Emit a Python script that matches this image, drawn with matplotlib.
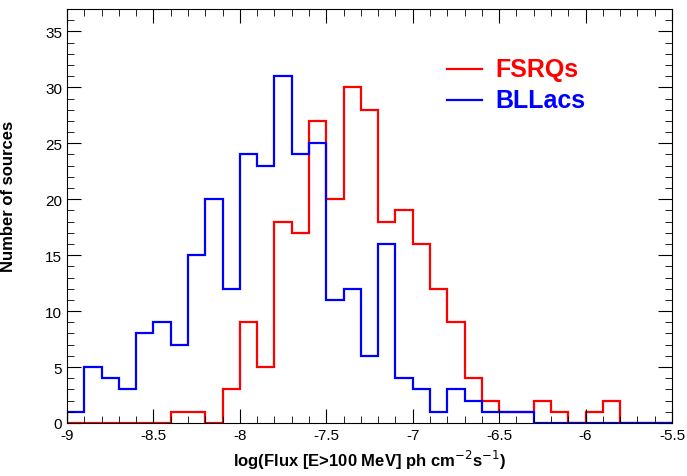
import numpy as np
import matplotlib
matplotlib.use("Agg")
import matplotlib.pyplot as plt
from matplotlib.ticker import MultipleLocator, FuncFormatter

edges = np.round(np.arange(-9.0, -5.5 + 1e-9, 0.1), 2)
fsrq = [0,0,0,0,0,0,1,1,0,3,9,5,18,17,27,20,30,28,18,19,16,12,9,4,2,1,1,2,1,0,1,2,0,0,0]
bll  = [1,5,4,3,8,9,7,15,20,12,24,23,31,24,25,11,12,6,16,4,3,1,3,2,1,1,1,0,0,0,0,0,0,0,0]

plt.rcParams['font.family'] = ['Liberation Sans', 'DejaVu Sans']
fig = plt.figure(figsize=(6.87, 4.77), dpi=100)
ax = fig.add_axes([67/687, 53/477, 605/687, 414/477])
ax.stairs(fsrq, edges, color='#ff0000', lw=1.6)
ax.stairs(bll, edges, color='#0000ff', lw=1.6)
ax.set_xlim(-9, -5.5)
ax.set_ylim(0, 37)
ax.xaxis.set_major_locator(MultipleLocator(0.5))
ax.xaxis.set_minor_locator(MultipleLocator(0.1))
ax.yaxis.set_major_locator(MultipleLocator(5))
ax.yaxis.set_minor_locator(MultipleLocator(1))
ax.xaxis.set_major_formatter(FuncFormatter(lambda v, p: f"{v:g}"))
ax.tick_params(which='both', direction='in', top=True, right=True, labelsize=11)
ax.tick_params(which='major', length=10)
ax.tick_params(which='minor', length=5)
ax.set_xlabel(r"log(Flux [E>100 MeV] ph cm$^{-2}$s$^{-1}$)", fontweight='bold', fontsize=12)
ax.set_ylabel("Number of sources", fontweight='bold', fontsize=12)
ax.yaxis.set_label_coords(-0.085, 0.55)
# legend
ax.plot([-6.8, -6.6], [31.6, 31.6], color='#ff0000', lw=1.6)
ax.plot([-6.8, -6.6], [28.9, 28.9], color='#0000ff', lw=1.6)
ax.text(-6.52, 31.6, "FSRQs", color='#ff0000', fontsize=18, fontweight='bold', va='center')
ax.text(-6.52, 28.9, "BLLacs", color='#0000ff', fontsize=18, fontweight='bold', va='center')
fig.savefig("out.png", dpi=100)
